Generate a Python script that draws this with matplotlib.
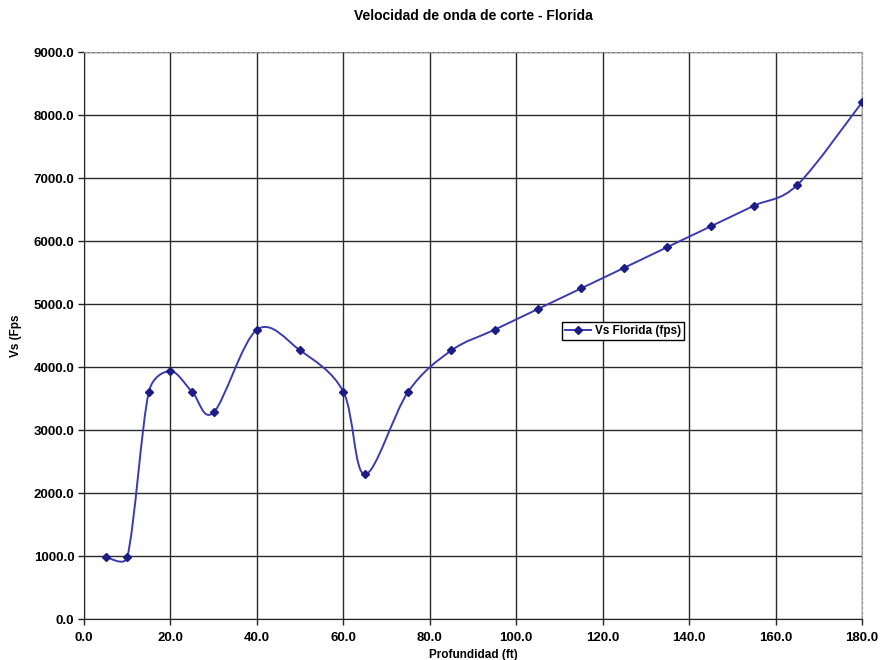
import numpy as np
import matplotlib.pyplot as plt
from matplotlib.path import Path
from matplotlib.patches import PathPatch
from matplotlib.lines import Line2D

plt.rcParams['font.family'] = ['Liberation Sans', 'DejaVu Sans']

# data (depth in ft, Vs in fps)
depth = [5, 10, 15, 20, 25, 30, 40, 50, 60, 65, 75, 85, 95, 105, 115, 125, 135, 145, 155, 165, 180]
vs = [984, 984, 3609, 3937, 3609, 3281, 4593, 4265, 3609, 2297, 3609, 4265, 4593,
      4921, 5249, 5577, 5906, 6234, 6562, 6890, 8202]

x_ticks = np.arange(0, 181, 20)
y_ticks = np.arange(0, 9001, 1000)

LINE_C = "#3b3bb0"
MARK_C = "#1c1c85"

fig = plt.figure(figsize=(8.8, 6.6), dpi=100)
ax = fig.add_axes([0.0955, 0.062, 0.884, 0.859])
ax.set_xlim(0, 180)
ax.set_ylim(0, 9000)


def smooth_path(ax, xs, ys):
    # excel-like smoothed line: cubic bezier through points, done in screen space
    pts = ax.transData.transform(np.column_stack([xs, ys]))
    n = len(pts)
    verts = [pts[0]]
    codes = [Path.MOVETO]
    for i in range(n - 1):
        p0 = pts[max(i - 1, 0)]
        p1 = pts[i]
        p2 = pts[i + 1]
        p3 = pts[min(i + 2, n - 1)]
        seg = np.hypot(*(p2 - p1))
        t1 = (p2 - p0) / 6.0
        t2 = (p3 - p1) / 6.0
        for t in (t1, t2):
            ln = np.hypot(*t)
            if ln > 0.5 * seg:
                t *= 0.5 * seg / ln
        verts += [p1 + t1, p2 - t2, p2]
        codes += [Path.CURVE4] * 3
    verts = ax.transData.inverted().transform(np.array(verts))
    return Path(verts, codes)


ax.add_patch(PathPatch(smooth_path(ax, depth, vs), facecolor="none",
                       edgecolor=LINE_C, lw=1.4, zorder=3))
ax.plot(depth, vs, linestyle="none", marker="D", ms=4, color=MARK_C, zorder=4)

ax.set_xticks(x_ticks)
ax.set_yticks(y_ticks)
ax.set_xticklabels([f"{v:.1f}" for v in x_ticks])
ax.set_yticklabels([f"{v:.1f}" for v in y_ticks])
ax.tick_params(axis="both", direction="out", length=4, width=1, color="#222222",
               labelsize=9.5, pad=3)
for lab in ax.get_xticklabels() + ax.get_yticklabels():
    lab.set_fontweight("bold")
ax.tick_params(axis="x", pad=5)

ax.grid(True, color="#2a2a2a", lw=1)
ax.set_axisbelow(True)

ax.spines["left"].set_color("#222222")
ax.spines["bottom"].set_color("#222222")
for s in ("top", "right"):
    ax.spines[s].set_color("#999999")
    ax.spines[s].set_linestyle((0, (3, 1.5)))

ax.set_title("Velocidad de onda de corte - Florida", fontsize=10, fontweight="bold", pad=23)
ax.set_xlabel("Profundidad (ft)", fontsize=8.5, fontweight="bold", labelpad=4)
ax.set_ylabel("Vs (Fps", fontsize=8.5, fontweight="bold", labelpad=8)

handle = Line2D([], [], color=LINE_C, lw=1.4, marker="D", ms=4,
                markerfacecolor=MARK_C, markeredgecolor=MARK_C)
leg = ax.legend([handle], ["Vs Florida (fps)"], loc="center",
                bbox_to_anchor=(623 / 880, 1 - 331 / 660), bbox_transform=fig.transFigure,
                fancybox=False, framealpha=1, edgecolor="black", borderpad=0.25,
                handlelength=2.2, handletextpad=0.3, prop={"size": 8.5, "weight": "bold"})
leg.get_frame().set_linewidth(1)

fig.savefig("out.png", dpi=100)
